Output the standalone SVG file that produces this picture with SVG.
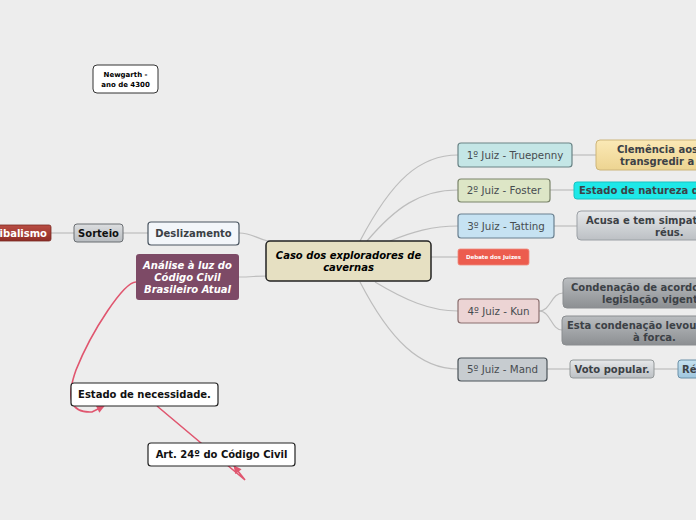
<svg xmlns="http://www.w3.org/2000/svg" width="696" height="520" viewBox="0 0 696 520">
<defs>
<linearGradient id="gYel" x1="0" y1="0" x2="0" y2="1"><stop offset="0" stop-color="#fbe9b6"/><stop offset="1" stop-color="#edd491"/></linearGradient>
<linearGradient id="gLgray" x1="0" y1="0" x2="0" y2="1"><stop offset="0" stop-color="#e6e8ea"/><stop offset="1" stop-color="#bcc0c4"/></linearGradient>
<linearGradient id="gDgray" x1="0" y1="0" x2="0" y2="1"><stop offset="0" stop-color="#babdc0"/><stop offset="1" stop-color="#8c8f92"/></linearGradient>
<linearGradient id="gBlue" x1="0" y1="0" x2="0" y2="1"><stop offset="0" stop-color="#c6e2f0"/><stop offset="1" stop-color="#9fc6de"/></linearGradient>
<linearGradient id="gRed" x1="0" y1="0" x2="0" y2="1"><stop offset="0" stop-color="#b94d43"/><stop offset="1" stop-color="#8e2d27"/></linearGradient>
<linearGradient id="gSort" x1="0" y1="0" x2="0" y2="1"><stop offset="0" stop-color="#dcdee0"/><stop offset="1" stop-color="#b9bdc1"/></linearGradient>
<marker id="arr" viewBox="0 0 10 10" refX="9" refY="5" markerWidth="9" markerHeight="8" orient="auto" markerUnits="userSpaceOnUse">
<path d="M0,0 L10,5 L0,10 z" fill="#e0566f"/>
</marker>
</defs>
<style>
text{font-family:"DejaVu Sans","Liberation Sans",sans-serif;font-size:10px}
.b{font-weight:bold}
.c{text-anchor:middle}
.j{fill:#474c50;font-size:10.3px}
.d{fill:#3c4146;font-weight:bold}
.w{fill:#fff}
.g{fill:none;stroke:#bdbdbd;stroke-width:1.2}
.r{fill:none;stroke:#e0566f;stroke-width:1.6}
</style>
<rect width="696" height="520" fill="#ededed"/>
<g id="connectors">
<path class="g" d="M360,241 C392,180 420,155 458,155"/>
<path class="g" d="M367,241 C395,208 420,190 458,190"/>
<path class="g" d="M390,241 C412,232 432,226 458,226"/>
<path class="g" d="M431,257 L458,257"/>
<path class="g" d="M375,282 C405,300 430,311 458,311"/>
<path class="g" d="M360,282 C390,340 420,369 458,369"/>
<path class="g" d="M572,155 L596,155"/>
<path class="g" d="M550,190 L574,190"/>
<path class="g" d="M554,226 L577,226"/>
<path class="g" d="M539,311 C551,311 551,293 563,293"/>
<path class="g" d="M539,311 C551,311 551,330 562,330"/>
<path class="g" d="M547,369 L570,369"/>
<path class="g" d="M654,369 L678,369"/>
<path class="g" d="M51,233 L74,233"/>
<path class="g" d="M123,233 L148,233"/>
<path class="g" d="M239,233 C252,233 255,238 268,241"/>
<path class="g" d="M239,277 C252,277 255,276 268,276"/>
<path class="r" d="M136,282 C124,282 92,330 76,370 C66,398 70,413 92,412 L104,406" marker-end="url(#arr)"/>
<path class="r" d="M157,406 L245,480 L234,466" marker-end="url(#arr)"/>
</g>
<g id="central">
<rect x="266" y="241" width="165" height="40" rx="4" fill="#e6e0c2" stroke="#222" stroke-width="1.5"/>
<text class="b c" x="348.5" y="259" font-style="italic">Caso dos exploradores de</text>
<text class="b c" x="348.5" y="271" font-style="italic">cavernas</text>
</g>
<g id="juiz1">
<rect x="458" y="143" width="114" height="24" rx="3" fill="#c4e6e6" stroke="#6a8486" stroke-width="1.2"/>
<text class="c j" x="515" y="158.5">1º Juiz - Truepenny</text>
</g>
<g id="juiz2">
<rect x="458" y="179" width="92" height="23" rx="3" fill="#dde6c6" stroke="#7a846a" stroke-width="1.2"/>
<text class="c j" x="504" y="194">2º Juiz - Foster</text>
</g>
<g id="juiz3">
<rect x="458" y="214" width="96" height="24" rx="3" fill="#c6e2f2" stroke="#6a8090" stroke-width="1.2"/>
<text class="c j" x="506" y="229.5">3º Juiz - Tatting</text>
</g>
<g id="debate">
<rect x="458" y="249" width="71" height="16" rx="2" fill="#ec5c4e" stroke="#f08a7e" stroke-width="0.8"/>
<text class="b c w" x="493.5" y="259" style="font-size:5.5px">Debate dos Juizes</text>
</g>
<g id="juiz4">
<rect x="458" y="299" width="81" height="24" rx="3" fill="#ecd4d4" stroke="#8a6e6e" stroke-width="1.2"/>
<text class="c j" x="498.5" y="314.5">4º Juiz - Kun</text>
</g>
<g id="juiz5">
<rect x="458" y="358" width="89" height="23" rx="3" fill="#c7ccd0" stroke="#4a5258" stroke-width="1.2"/>
<text class="c j" x="502.5" y="373">5º Juiz - Mand</text>
</g>
<g id="clemencia">
<rect x="596" y="140" width="130" height="30" rx="4" fill="url(#gYel)" stroke="#cdb57a" stroke-width="1"/>
<text class="d" x="617" y="153">Clemência aos</text>
<text class="d" x="620" y="165">transgredir a</text>
</g>
<g id="natureza">
<rect x="574" y="182" width="150" height="17" rx="3" fill="#1ee8e8" stroke="#19c2c2" stroke-width="1"/>
<text class="d" x="579" y="194">Estado de natureza d</text>
</g>
<g id="acusa">
<rect x="577" y="211" width="150" height="29" rx="4" fill="url(#gLgray)" stroke="#9ba0a5" stroke-width="1"/>
<text class="d" x="586" y="223.5">Acusa e tem simpat</text>
<text class="d" x="655" y="235.5">réus.</text>
</g>
<g id="condenacao">
<rect x="563" y="278" width="160" height="30" rx="4" fill="url(#gDgray)" stroke="#8a8d90" stroke-width="1"/>
<text class="d" x="571" y="291">Condenação de acordo</text>
<text class="d" x="602" y="303">legislação vigent</text>
</g>
<g id="forca">
<rect x="562" y="316" width="160" height="29" rx="4" fill="url(#gDgray)" stroke="#8a8d90" stroke-width="1"/>
<text class="d" x="567" y="328.5">Esta condenação levou</text>
<text class="d" x="633" y="340.5">à forca.</text>
</g>
<g id="voto">
<rect x="570" y="360" width="84" height="18" rx="3" fill="url(#gLgray)" stroke="#939899" stroke-width="1"/>
<text class="d c" x="612" y="372.5">Voto popular.</text>
</g>
<g id="re">
<rect x="678" y="360" width="40" height="18" rx="3" fill="url(#gBlue)" stroke="#6a90a8" stroke-width="1"/>
<text class="d" x="682" y="372.5">Ré</text>
</g>
<g id="deslizamento">
<rect x="148" y="222" width="91" height="23" rx="3" fill="#f3f6fa" stroke="#4a5560" stroke-width="1.2"/>
<text class="d c" x="193.5" y="237">Deslizamento</text>
</g>
<g id="sorteio">
<rect x="74" y="224" width="49" height="18" rx="3" fill="url(#gSort)" stroke="#6a6e72" stroke-width="1"/>
<text class="b c" x="98.5" y="236.5" fill="#111">Sorteio</text>
</g>
<g id="canibalismo">
<rect x="-20" y="225" width="71" height="16" rx="2" fill="url(#gRed)" stroke="#7a2822" stroke-width="0.8"/>
<text class="b w" x="47" y="236.5" text-anchor="end">ibalismo</text>
</g>
<g id="analise">
<rect x="136" y="254" width="103" height="46" rx="3" fill="#7d4a66"/>
<text class="b c w" x="187.5" y="269" font-style="italic">Análise à luz do</text>
<text class="b c w" x="187.5" y="281" font-style="italic">Código Civil</text>
<text class="b c w" x="187.5" y="293" font-style="italic">Brasileiro Atual</text>
</g>
<g id="newgarth">
<rect x="93" y="65" width="65" height="28" rx="4" fill="#fff" stroke="#333" stroke-width="1"/>
<text class="b c" x="125.5" y="77" style="font-size:7px">Newgarth -</text>
<text class="b c" x="125.5" y="86.5" style="font-size:7px">ano de 4300</text>
</g>
<g id="necessidade">
<rect x="71" y="383" width="147" height="23" rx="3" fill="#fff" stroke="#222" stroke-width="1.2"/>
<text class="b c" x="144.5" y="398" fill="#111">Estado de necessidade.</text>
</g>
<g id="art24">
<rect x="148" y="443" width="147" height="23" rx="3" fill="#fff" stroke="#222" stroke-width="1.2"/>
<text class="b c" x="221.5" y="458" fill="#111">Art. 24º do Código Civil</text>
</g>
</svg>
